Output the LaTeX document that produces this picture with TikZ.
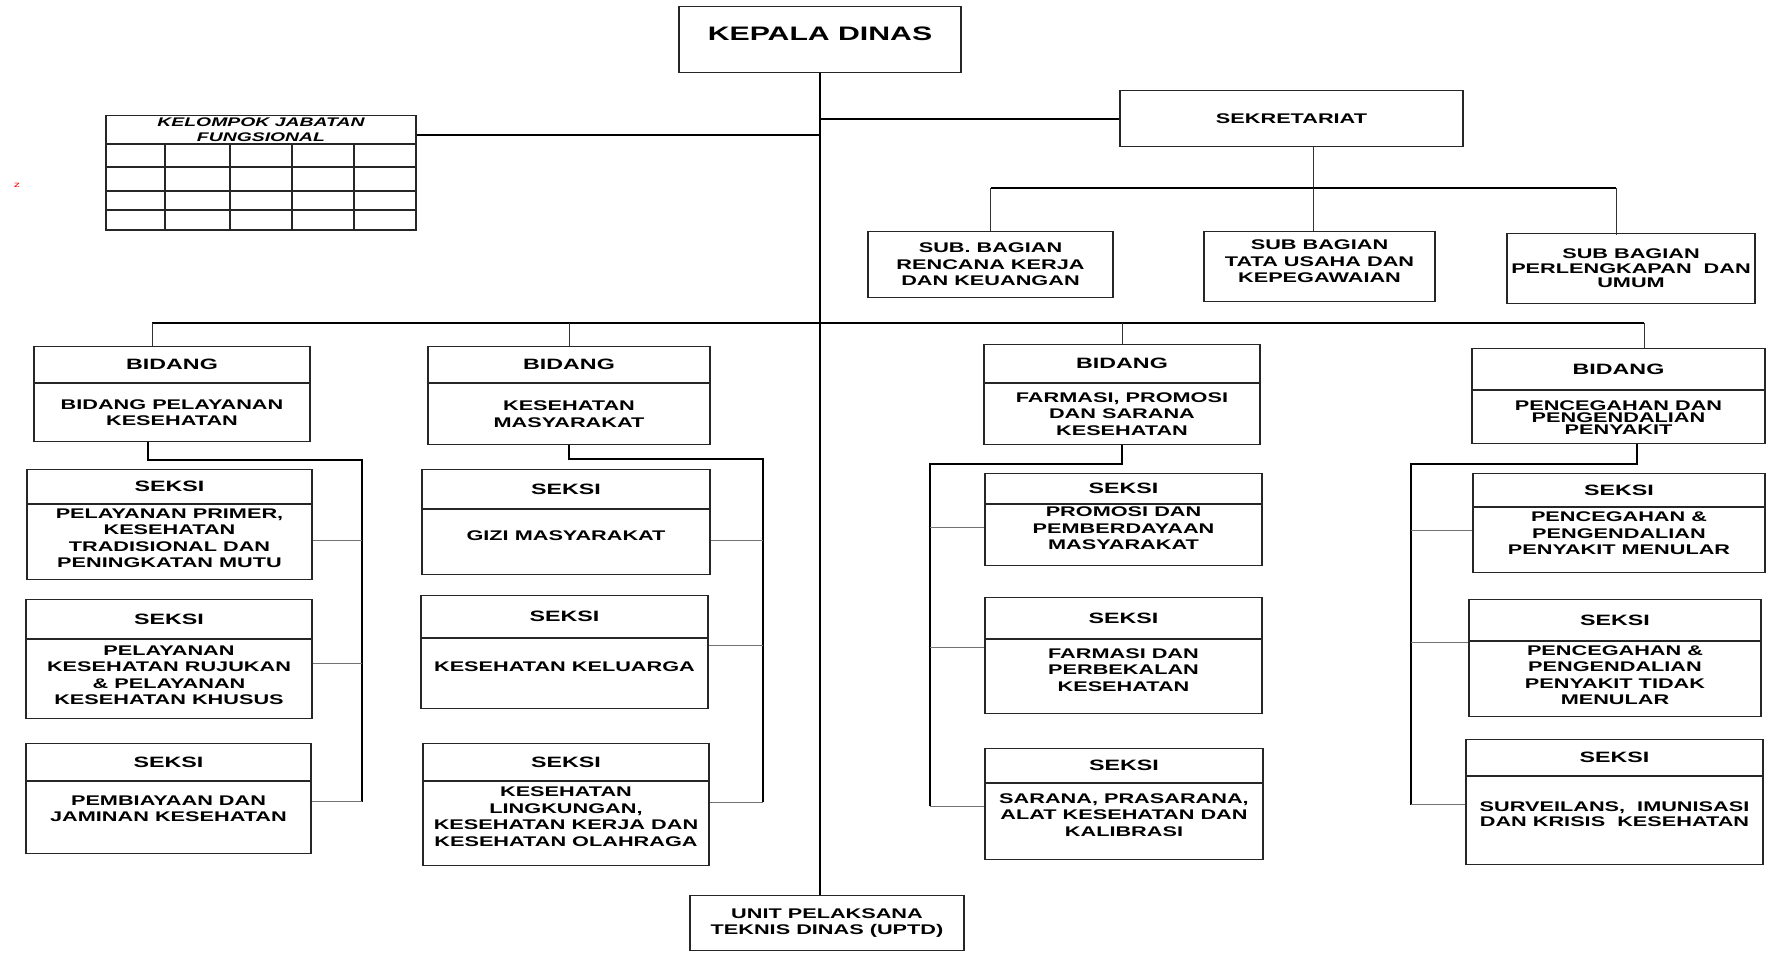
\documentclass[tikz,border=0pt]{standalone}
\usepackage{fontspec}
\setmainfont{Liberation Sans}[FakeStretch=1.55]
\usetikzlibrary{calc}
\newcommand\orgtext{\fontsize{14pt}{16.5pt}\selectfont\bfseries}
\newcommand\orghead{\fontsize{15pt}{17pt}\selectfont\bfseries}
\newcommand\orgtight{\fontsize{14pt}{12pt}\selectfont\bfseries}
\newcommand\bosstext{\fontsize{19.5pt}{22pt}\selectfont\bfseries}
\newcommand\kjftext{\fontsize{12.5pt}{15pt}\selectfont\bfseries\itshape}

\begin{document}
\begin{tikzpicture}[x=1pt,y=-1pt,
    box/.style={draw=black!85,line width=1.1pt,align=center,inner sep=1pt,font=\orgtext},
    headbox/.style={box,font=\orghead,anchor=north},
    bodybox/.style={box,anchor=north},
    seksibody/.style={bodybox,text depth=14pt},
    cell/.style={line width=1.1pt,black!85},
    trunk/.style={line width=2.4pt},
    bus/.style={line width=2pt},
    rail/.style={line width=1.5pt},
    drop/.style={line width=1pt,black!80},
    stub/.style={line width=1pt,black!55}]
\useasboundingbox (0,0) rectangle (1774,953);

% top
\node[box,font=\bosstext,anchor=north,minimum width=282pt,inner ysep=0pt,
      text height=34pt,text depth=32pt] (kepala) at (820,6) {KEPALA DINAS};
\node[box,anchor=north,minimum width=343pt,minimum height=56pt] (sekr) at (1291.5,90) {SEKRETARIAT};
\node[box,anchor=north,minimum width=274pt,minimum height=55pt] (uptd) at (827,895)
    {UNIT PELAKSANA\\TEKNIS DINAS (UPTD)};
\node[text=red,font=\fontsize{8pt}{8pt}\selectfont,inner sep=0pt] (zmark) at (17,185) {z};

% kelompok jabatan fungsional
\node[box,font=\kjftext,anchor=north,minimum width=310pt,minimum height=29pt,inner sep=0pt]
    (kjfh) at (261,115) {KELOMPOK JABATAN\\FUNGSIONAL};
\draw[cell] (106,144) rectangle (416,230);
\foreach \y in {167,191,210} \draw[cell] (106,\y) -- (416,\y);
\foreach \x in {165,230,292,354} \draw[cell] (\x,144) -- (\x,230);

% sub bagian
\node[box,anchor=north,minimum width=245pt,minimum height=66pt] (sub1) at (990.5,231)
    {SUB. BAGIAN\\RENCANA KERJA\\DAN KEUANGAN};
\node[box,anchor=north,minimum width=231pt,minimum height=70pt,text depth=10pt] (sub2) at (1319.5,231)
    {SUB BAGIAN\\TATA USAHA DAN\\KEPEGAWAIAN};
\node[box,anchor=north,minimum width=248pt,minimum height=70pt,
      font=\fontsize{14pt}{14.5pt}\selectfont\bfseries] (sub3) at (1631,233)
    {SUB BAGIAN\\PERLENGKAPAN\ \ DAN\\UMUM};

% bidang
\node[headbox,minimum width=276pt,minimum height=36pt] (bid1h) at (172,346) {BIDANG};
\node[bodybox,minimum width=276pt,minimum height=58pt] (bid1) at (bid1h.south)
    {BIDANG PELAYANAN\\KESEHATAN};
\node[headbox,minimum width=282pt,minimum height=36pt] (bid2h) at (569,346) {BIDANG};
\node[bodybox,minimum width=282pt,minimum height=61pt] (bid2) at (bid2h.south)
    {KESEHATAN\\MASYARAKAT};
\node[headbox,minimum width=276pt,minimum height=38pt] (bid3h) at (1122,344) {BIDANG};
\node[bodybox,minimum width=276pt,minimum height=61pt] (bid3) at (bid3h.south)
    {FARMASI, PROMOSI\\DAN SARANA\\KESEHATAN};
\node[headbox,minimum width=293pt,minimum height=41pt] (bid4h) at (1618.5,348) {BIDANG};
\node[bodybox,font=\orgtight,minimum width=293pt,minimum height=53pt] (bid4) at (bid4h.south)
    {PENCEGAHAN DAN\\PENGENDALIAN\\PENYAKIT};

% seksi, bidang pelayanan kesehatan
\node[headbox,minimum width=285pt,minimum height=34pt] (s1ah) at (169.5,469) {SEKSI};
\node[seksibody,minimum width=285pt,minimum height=75pt,text depth=8pt] (s1a) at (s1ah.south)
    {PELAYANAN PRIMER,\\KESEHATAN\\TRADISIONAL DAN\\PENINGKATAN MUTU};
\node[headbox,minimum width=286pt,minimum height=39pt] (s1bh) at (169,599) {SEKSI};
\node[seksibody,minimum width=286pt,minimum height=79pt,text depth=8pt] (s1b) at (s1bh.south)
    {PELAYANAN\\KESEHATAN RUJUKAN\\\& PELAYANAN\\KESEHATAN KHUSUS};
\node[headbox,minimum width=285pt,minimum height=37pt] (s1ch) at (168.5,743) {SEKSI};
\node[seksibody,minimum width=285pt,minimum height=72pt,text depth=18pt] (s1c) at (s1ch.south)
    {PEMBIAYAAN DAN\\JAMINAN KESEHATAN};

% seksi, bidang kesehatan masyarakat
\node[headbox,minimum width=288pt,minimum height=39pt] (s2ah) at (566,469) {SEKSI};
\node[seksibody,minimum width=288pt,minimum height=65pt] (s2a) at (s2ah.south)
    {GIZI MASYARAKAT};
\node[headbox,minimum width=287pt,minimum height=42pt] (s2bh) at (564.5,595) {SEKSI};
\node[seksibody,minimum width=287pt,minimum height=70pt] (s2b) at (s2bh.south)
    {KESEHATAN KELUARGA};
\node[headbox,minimum width=286pt,minimum height=37pt] (s2ch) at (566,743) {SEKSI};
\node[seksibody,minimum width=286pt,minimum height=84pt] (s2c) at (s2ch.south)
    {KESEHATAN\\LINGKUNGAN,\\KESEHATAN KERJA DAN\\KESEHATAN OLAHRAGA};

% seksi, bidang farmasi
\node[headbox,minimum width=277pt,minimum height=30pt] (s3ah) at (1123.5,473) {SEKSI};
\node[seksibody,minimum width=277pt,minimum height=61pt] (s3a) at (s3ah.south)
    {PROMOSI DAN\\PEMBERDAYAAN\\MASYARAKAT};
\node[headbox,minimum width=277pt,minimum height=41pt] (s3bh) at (1123.5,597) {SEKSI};
\node[seksibody,minimum width=277pt,minimum height=74pt] (s3b) at (s3bh.south)
    {FARMASI DAN\\PERBEKALAN\\KESEHATAN};
\node[headbox,minimum width=278pt,minimum height=34pt] (s3ch) at (1124,748) {SEKSI};
\node[seksibody,minimum width=278pt,minimum height=76pt] (s3c) at (s3ch.south)
    {SARANA, PRASARANA,\\ALAT KESEHATAN DAN\\KALIBRASI};

% seksi, bidang pencegahan
\node[headbox,minimum width=292pt,minimum height=33pt] (s4ah) at (1619,473) {SEKSI};
\node[seksibody,minimum width=292pt,minimum height=65pt] (s4a) at (s4ah.south)
    {PENCEGAHAN \&\\PENGENDALIAN\\PENYAKIT MENULAR};
\node[headbox,minimum width=292pt,minimum height=41pt] (s4bh) at (1615,599) {SEKSI};
\node[seksibody,minimum width=292pt,minimum height=75pt,text depth=8pt] (s4b) at (s4bh.south)
    {PENCEGAHAN \&\\PENGENDALIAN\\PENYAKIT TIDAK\\MENULAR};
\node[headbox,minimum width=297pt,minimum height=36pt] (s4ch) at (1614.5,739) {SEKSI};
\node[seksibody,minimum width=297pt,minimum height=88pt,
      font=\fontsize{14pt}{15pt}\selectfont\bfseries] (s4c) at (s4ch.south)
    {SURVEILANS,\ \ IMUNISASI\\DAN KRISIS\ \ KESEHATAN};

% trunk and top links
\draw[trunk] (kepala.south) -- (kepala.south |- uptd.north);
\draw[bus] (kepala.south |- sekr.west) -- (sekr.west);
\draw[rail] ([yshift=-5pt]kjfh.east) -- ([yshift=-5pt]kjfh.east -| kepala.south);

% sekretariat to sub bagian
\coordinate (subbus) at (1313,188);
\coordinate (sub3top) at ([xshift=-15pt]sub3.north);
\draw[drop] (sekr.south -| subbus) -- (subbus);
\draw[bus] (sub1.north |- subbus) -- (sub3top |- subbus);
\draw[drop] (sub1.north |- subbus) -- (sub1.north);
\draw[drop] (subbus) -- (subbus |- sub2.north);
\draw[drop] (sub3top |- subbus) -- ([yshift=-2pt]sub3top);

% main bus to bidang
\coordinate (busL) at (152,323);
\coordinate (busR) at (1644,323);
\draw[bus] (busL) -- (busR);
\draw[drop] (busL) -- (busL |- bid1h.north);
\draw[drop] (bid2h.north |- busL) -- (bid2h.north);
\draw[drop] (bid3h.north |- busL) -- (bid3h.north);
\draw[drop] (busR) -- (busR |- bid4h.north);

% bidang to seksi
\coordinate (col1) at (362,460);
\coordinate (col2) at (763,459);
\coordinate (col3) at (930,464);
\coordinate (col4) at (1411,464);
\coordinate (t1a) at ($(s1ah.north east)!.64!(s1a.south east)$);
\coordinate (t1b) at ($(s1bh.north east)!.54!(s1b.south east)$);
\coordinate (t1c) at ($(s1ch.north east)!.53!(s1c.south east)$);
\coordinate (t2a) at ($(s2ah.north east)!.67!(s2a.south east)$);
\coordinate (t2b) at ($(s2bh.north east)!.44!(s2b.south east)$);
\coordinate (t2c) at ($(s2ch.north east)!.48!(s2c.south east)$);
\coordinate (t3a) at ($(s3ah.north west)!.59!(s3a.south west)$);
\coordinate (t3b) at ($(s3bh.north west)!.43!(s3b.south west)$);
\coordinate (t3c) at ($(s3ch.north west)!.52!(s3c.south west)$);
\coordinate (t4a) at ($(s4ah.north west)!.57!(s4a.south west)$);
\coordinate (t4b) at ($(s4bh.north west)!.37!(s4b.south west)$);
\coordinate (t4c) at ($(s4ch.north west)!.52!(s4c.south west)$);

\draw[rail] ([xshift=-24pt]bid1.south) |- (col1) -- (col1 |- t1c);
\draw[rail] (bid2.south) |- (col2) -- (col2 |- t2c);
\draw[rail] (bid3.south) |- (col3) -- (col3 |- t3c);
\draw[rail] ([xshift=18.5pt]bid4.south) |- (col4) -- (col4 |- t4c);

\draw[stub] (t1a) -- (t1a -| col1);
\draw[stub] (t1b) -- (t1b -| col1);
\draw[stub] (t1c) -- (t1c -| col1);
\draw[stub] (t2a) -- (t2a -| col2);
\draw[stub] (t2b) -- (t2b -| col2);
\draw[stub] (t2c) -- (t2c -| col2);
\draw[stub] (t3a) -- (t3a -| col3);
\draw[stub] (t3b) -- (t3b -| col3);
\draw[stub] (t3c) -- (t3c -| col3);
\draw[stub] (t4a) -- (t4a -| col4);
\draw[stub] (t4b) -- (t4b -| col4);
\draw[stub] (t4c) -- (t4c -| col4);
\end{tikzpicture}
\end{document}
